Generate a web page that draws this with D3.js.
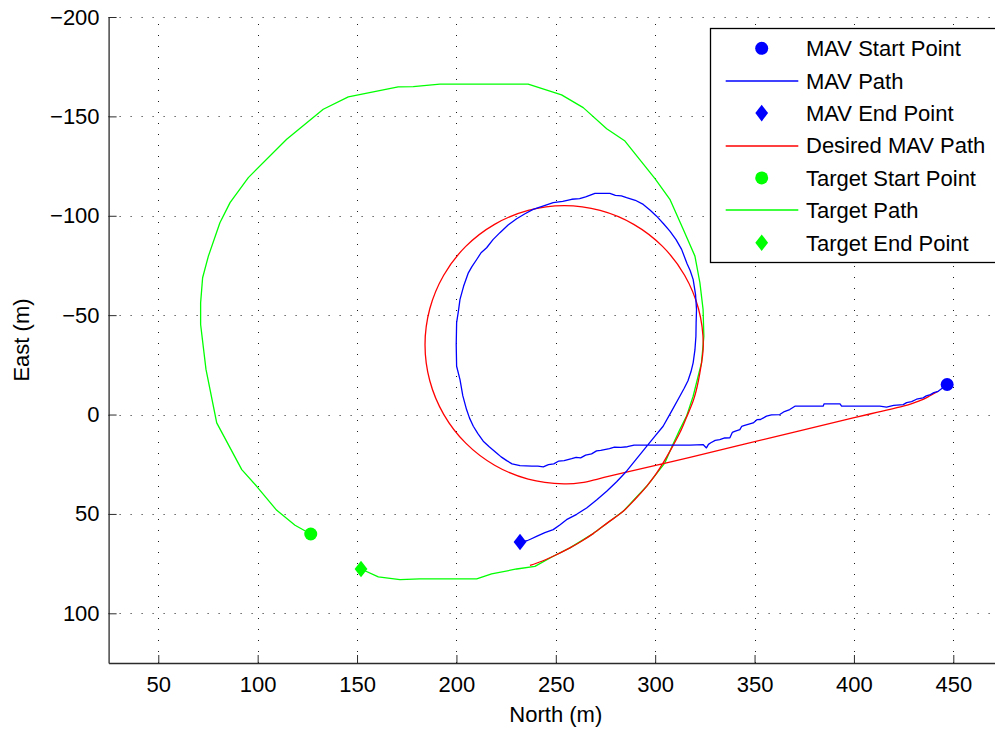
<!DOCTYPE html>
<html>
<head>
<meta charset="utf-8">
<script src="https://cdn.jsdelivr.net/npm/d3@7"></script>
<style>
  html, body { margin: 0; padding: 0; background: #fff; }
  svg { display: block; font-family: "Liberation Sans", Arial, Helvetica, sans-serif; }
</style>
</head>
<body>
<svg id="chart" width="995" height="730"></svg>
<script>
// Axis ticks
const xTicks = [50, 100, 150, 200, 250, 300, 350, 400, 450];
const yTicks = [-200, -150, -100, -50, 0, 50, 100];

// MAV start / end points [north, east]
const mavStart = [446.9, -15.1];
const mavEnd = [232.0, 64.1];

// Target start / end points [north, east]
const targetStart = [126.7, 60.1];
const targetEnd = [152.0, 77.7];

// Flown MAV path [north, east]
const mavPath = [
  [446.9, -15.1], [442.4, -11.7], [440.2, -11.0], [438.5, -10.0], [436.4, -9.4], [434.8, -8.4],
  [431.5, -7.7], [429.0, -6.5], [426.5, -6.0], [424.8, -5.0], [420.0, -4.6], [416.4, -3.7],
  [413.0, -4.2], [393.8, -4.2], [393.0, -5.4], [385.0, -5.4], [384.5, -4.2], [370.3, -4.2],
  [367.7, -2.5], [365.0, -1.5], [362.7, 0.0], [358.5, 0.2], [356.0, 0.8], [353.0, 2.5],
  [351.2, 2.6], [349.3, 4.2], [345.0, 5.5], [343.5, 6.0], [342.6, 7.6], [340.0, 8.5],
  [338.8, 9.0], [337.6, 11.7], [335.0, 11.8], [332.5, 12.6], [330.2, 13.0], [328.0, 14.2],
  [326.8, 15.0], [325.8, 16.8], [324.1, 15.1], [317.5, 15.4], [289.4, 15.4], [286.0, 16.2],
  [282.7, 16.5], [279.5, 16.4], [277.0, 17.2], [272.6, 18.0], [270.5, 18.3], [268.0, 19.8],
  [265.0, 20.4], [262.5, 21.8], [260.2, 21.5], [258.0, 22.2], [254.2, 23.2], [251.5, 23.4],
  [249.0, 24.8], [246.3, 25.2], [243.7, 26.3], [241.0, 26.0], [238.0, 26.0], [232.0, 25.7],
  [228.0, 24.8], [225.3, 23.2], [222.5, 21.3], [220.2, 19.3], [216.5, 16.2], [213.5, 13.4],
  [210.8, 9.6], [208.5, 5.9], [206.6, 1.8], [205.1, -2.5], [203.2, -9.5], [201.8, -17.6],
  [200.1, -24.3], [199.9, -35.0], [200.1, -46.2], [201.0, -52.0], [201.8, -57.9], [203.6, -64.5],
  [206.0, -71.3], [207.8, -74.4], [210.2, -78.0], [212.4, -81.4], [215.2, -83.9], [218.4, -88.0],
  [221.9, -91.5], [226.0, -95.4], [230.3, -98.5], [234.5, -101.0], [238.6, -103.2], [243.5, -104.8],
  [248.7, -106.6], [253.5, -107.2], [258.0, -108.3], [262.0, -108.6], [265.0, -109.5], [269.7, -111.3],
  [277.2, -111.3], [280.0, -110.3], [283.0, -110.0], [285.6, -109.1], [290.0, -107.8], [294.0, -105.7],
  [297.5, -102.8], [300.7, -99.8], [304.2, -96.0], [307.4, -92.3], [310.5, -88.0], [313.3, -83.1],
  [316.0, -76.0], [317.6, -72.5], [319.1, -68.0], [320.3, -60.5], [320.8, -52.9], [320.6, -46.0],
  [320.5, -39.4], [320.0, -32.5], [319.1, -26.0], [318.0, -21.5], [316.5, -17.0], [314.6, -13.2],
  [312.4, -9.2], [308.2, -1.6], [304.0, 5.9], [299.8, 11.0], [295.7, 16.0], [290.6, 22.3],
  [285.6, 28.5], [280.6, 33.8], [275.6, 38.6], [270.5, 43.0], [265.5, 47.0], [260.5, 50.2],
  [255.4, 52.9], [252.0, 55.6], [248.7, 57.9], [244.5, 59.4], [240.3, 61.3], [237.5, 62.6],
  [235.5, 63.5], [232.0, 64.1]
];

// Desired MAV path [north, east]: approach leg, orbit, departure arc
const desiredPath = [
  [442.4, -11.7], [438.5, -9.6], [434.8, -7.6], [429.5, -5.6], [424.8, -4.2], [412.0, -1.2],
  [399.6, 1.7], [358.5, 11.6], [317.5, 21.5], [283.9, 29.4], [272.0, 32.2], [263.0, 34.3],
  [254.2, 34.9], [236.1, 32.5], [219.2, 25.5], [204.7, 14.4], [193.6, -0.1], [186.6, -17.0],
  [184.2, -35.1], [186.6, -53.2], [193.6, -70.1], [204.7, -84.6], [219.2, -95.7], [236.1, -102.7],
  [254.2, -105.1], [272.3, -102.7], [289.2, -95.7], [303.7, -84.6], [314.8, -70.1], [321.8, -53.2],
  [324.2, -35.1], [322.4, -20.5], [319.5, -8.0], [315.5, 2.0], [312.4, 9.2], [308.5, 16.5],
  [304.0, 24.3], [300.0, 30.5], [295.7, 36.1], [290.0, 42.5], [283.9, 48.7], [276.0, 54.5],
  [268.8, 59.9], [262.5, 64.0], [257.1, 67.1], [248.7, 71.3], [243.0, 73.8], [237.0, 75.9]
];

// Target path [north, east]
const targetPath = [
  [126.7, 60.1], [118.8, 55.7], [109.6, 48.2], [99.5, 36.1], [92.0, 27.7], [79.4, 4.2],
  [74.0, -22.7], [71.3, -45.3], [71.3, -56.2], [72.3, -68.8], [75.2, -79.7], [81.0, -96.5],
  [86.1, -106.6], [95.3, -119.2], [114.6, -138.5], [133.0, -153.6], [145.6, -159.8], [170.7, -164.8],
  [178.3, -165.0], [191.7, -166.2], [236.1, -166.2], [252.9, -160.8], [263.8, -154.4], [275.6, -143.8],
  [284.8, -137.6], [299.9, -118.7], [307.4, -108.3], [314.1, -93.2], [320.0, -79.7], [322.5, -66.3],
  [324.1, -52.9], [324.5, -39.4], [323.3, -26.0], [319.1, -9.2], [315.8, 0.8], [312.4, 7.6],
  [308.5, 16.0], [304.9, 24.3], [295.7, 36.1], [283.9, 48.7], [268.8, 59.9], [257.1, 67.1],
  [248.7, 71.3], [239.5, 76.4], [230.3, 77.7], [217.7, 80.2], [210.2, 82.7], [181.6, 82.7],
  [171.6, 83.1], [160.7, 81.7], [152.0, 77.7]
];

// Legend entries
const legendItems = [
  { label: "MAV Start Point", kind: "circle", color: "#0000ff" },
  { label: "MAV Path", kind: "line", color: "#0000ff" },
  { label: "MAV End Point", kind: "diamond", color: "#0000ff" },
  { label: "Desired MAV Path", kind: "line", color: "#ff0000" },
  { label: "Target Start Point", kind: "circle", color: "#00ff00" },
  { label: "Target Path", kind: "line", color: "#00ff00" },
  { label: "Target End Point", kind: "diamond", color: "#00ff00" }
];

const svg = d3.select("#chart");
const fontSize = 22;

const x = d3.scaleLinear().domain([25, 475]).range([108.6, 1003]);
const y = d3.scaleLinear().domain([-200, 125]).range([17, 663]);
const [x0, x1] = x.range();
const [y0, y1] = y.range();

// Dotted grid
const grid = svg.append("g").attr("stroke", "#1a1a1a").attr("stroke-width", 1)
  .attr("stroke-dasharray", "1,10").attr("fill", "none");
grid.selectAll("line.gx").data(xTicks).join("line").attr("class", "gx")
  .attr("x1", d => Math.round(x(d)) + 0.5).attr("x2", d => Math.round(x(d)) + 0.5)
  .attr("y1", y1).attr("y2", y0);
grid.selectAll("line.gy").data(yTicks).join("line").attr("class", "gy")
  .attr("y1", d => Math.round(y(d)) + 0.5).attr("y2", d => Math.round(y(d)) + 0.5)
  .attr("x1", x0).attr("x2", x1);

// Axes with inward ticks
const xAxis = d3.axisBottom(x).tickValues(xTicks).tickSizeInner(-8).tickSizeOuter(0)
  .tickPadding(13).tickFormat(d3.format("d"));
const yAxis = d3.axisLeft(y).tickValues(yTicks).tickSizeInner(-8).tickSizeOuter(0)
  .tickPadding(9).tickFormat(d => d < 0 ? "\u2212" + Math.abs(d) : String(d));

const gx = svg.append("g").attr("transform", `translate(0,${y1})`).call(xAxis);
const gy = svg.append("g").attr("transform", `translate(${x0},0)`).call(yAxis);
[gx, gy].forEach(g => {
  g.select(".domain").attr("stroke", "#2b2b2b").attr("stroke-width", 1.3);
  g.selectAll(".tick line").attr("stroke", "#2b2b2b").attr("stroke-width", 1);
  g.selectAll(".tick text").attr("fill", "#000").style("font-size", fontSize + "px")
    .style("font-family", "'Liberation Sans', Arial, sans-serif");
});

// Axis titles
svg.append("text").attr("x", (x0 + x1) / 2).attr("y", 722).attr("text-anchor", "middle")
  .style("font-size", fontSize + "px").text("North (m)");
svg.append("text").attr("transform", `translate(29,${(y0 + y1) / 2}) rotate(-90)`)
  .attr("text-anchor", "middle").style("font-size", fontSize + "px").text("East (m)");

// Paths
const line = d3.line().x(d => x(d[0])).y(d => y(d[1]));
const smooth = d3.line().x(d => x(d[0])).y(d => y(d[1])).curve(d3.curveCatmullRom.alpha(0.5));
const plot = svg.append("g").attr("fill", "none").attr("stroke-width", 1.3)
  .attr("stroke-linejoin", "round");
plot.append("path").datum(targetPath).attr("stroke", "#00ff00").attr("d", line);
plot.append("path").datum(desiredPath).attr("stroke", "#ff0000").attr("d", smooth);
plot.append("path").datum(mavPath).attr("stroke", "#0000ff").attr("d", line);

// Markers
function drawMarker(g, kind, cx, cy, color) {
  if (kind === "circle") {
    g.append("circle").attr("cx", cx).attr("cy", cy).attr("r", 6.5).attr("fill", color);
  } else if (kind === "diamond") {
    g.append("path").attr("fill", color)
      .attr("d", `M${cx},${cy - 8.3}L${cx + 6.4},${cy}L${cx},${cy + 8.3}L${cx - 6.4},${cy}Z`);
  }
}
const marks = svg.append("g");
drawMarker(marks, "circle", x(mavStart[0]), y(mavStart[1]), "#0000ff");
drawMarker(marks, "diamond", x(mavEnd[0]), y(mavEnd[1]), "#0000ff");
drawMarker(marks, "circle", x(targetStart[0]), y(targetStart[1]), "#00ff00");
drawMarker(marks, "diamond", x(targetEnd[0]), y(targetEnd[1]), "#00ff00");

// Legend
const legend = svg.append("g");
legend.append("rect").attr("x", 710.5).attr("y", 28.5).attr("width", 320).attr("height", 234)
  .attr("fill", "#fff").attr("stroke", "#000").attr("stroke-width", 1.3);
const rowY = d3.scaleLinear().domain([0, legendItems.length - 1]).range([48.3, 242.7]);
legendItems.forEach((it, i) => {
  const cy = rowY(i);
  if (it.kind === "line") {
    const ly = Math.round(cy);
    legend.append("line").attr("x1", 725.7).attr("x2", 798.3).attr("y1", ly).attr("y2", ly)
      .attr("stroke", it.color).attr("stroke-width", 1.6);
  } else {
    drawMarker(legend, it.kind, 761.7, cy, it.color);
  }
  legend.append("text").attr("x", 806).attr("y", cy + 7.8).style("font-size", fontSize + "px")
    .attr("fill", "#000").text(it.label);
});
</script>
</body>
</html>
